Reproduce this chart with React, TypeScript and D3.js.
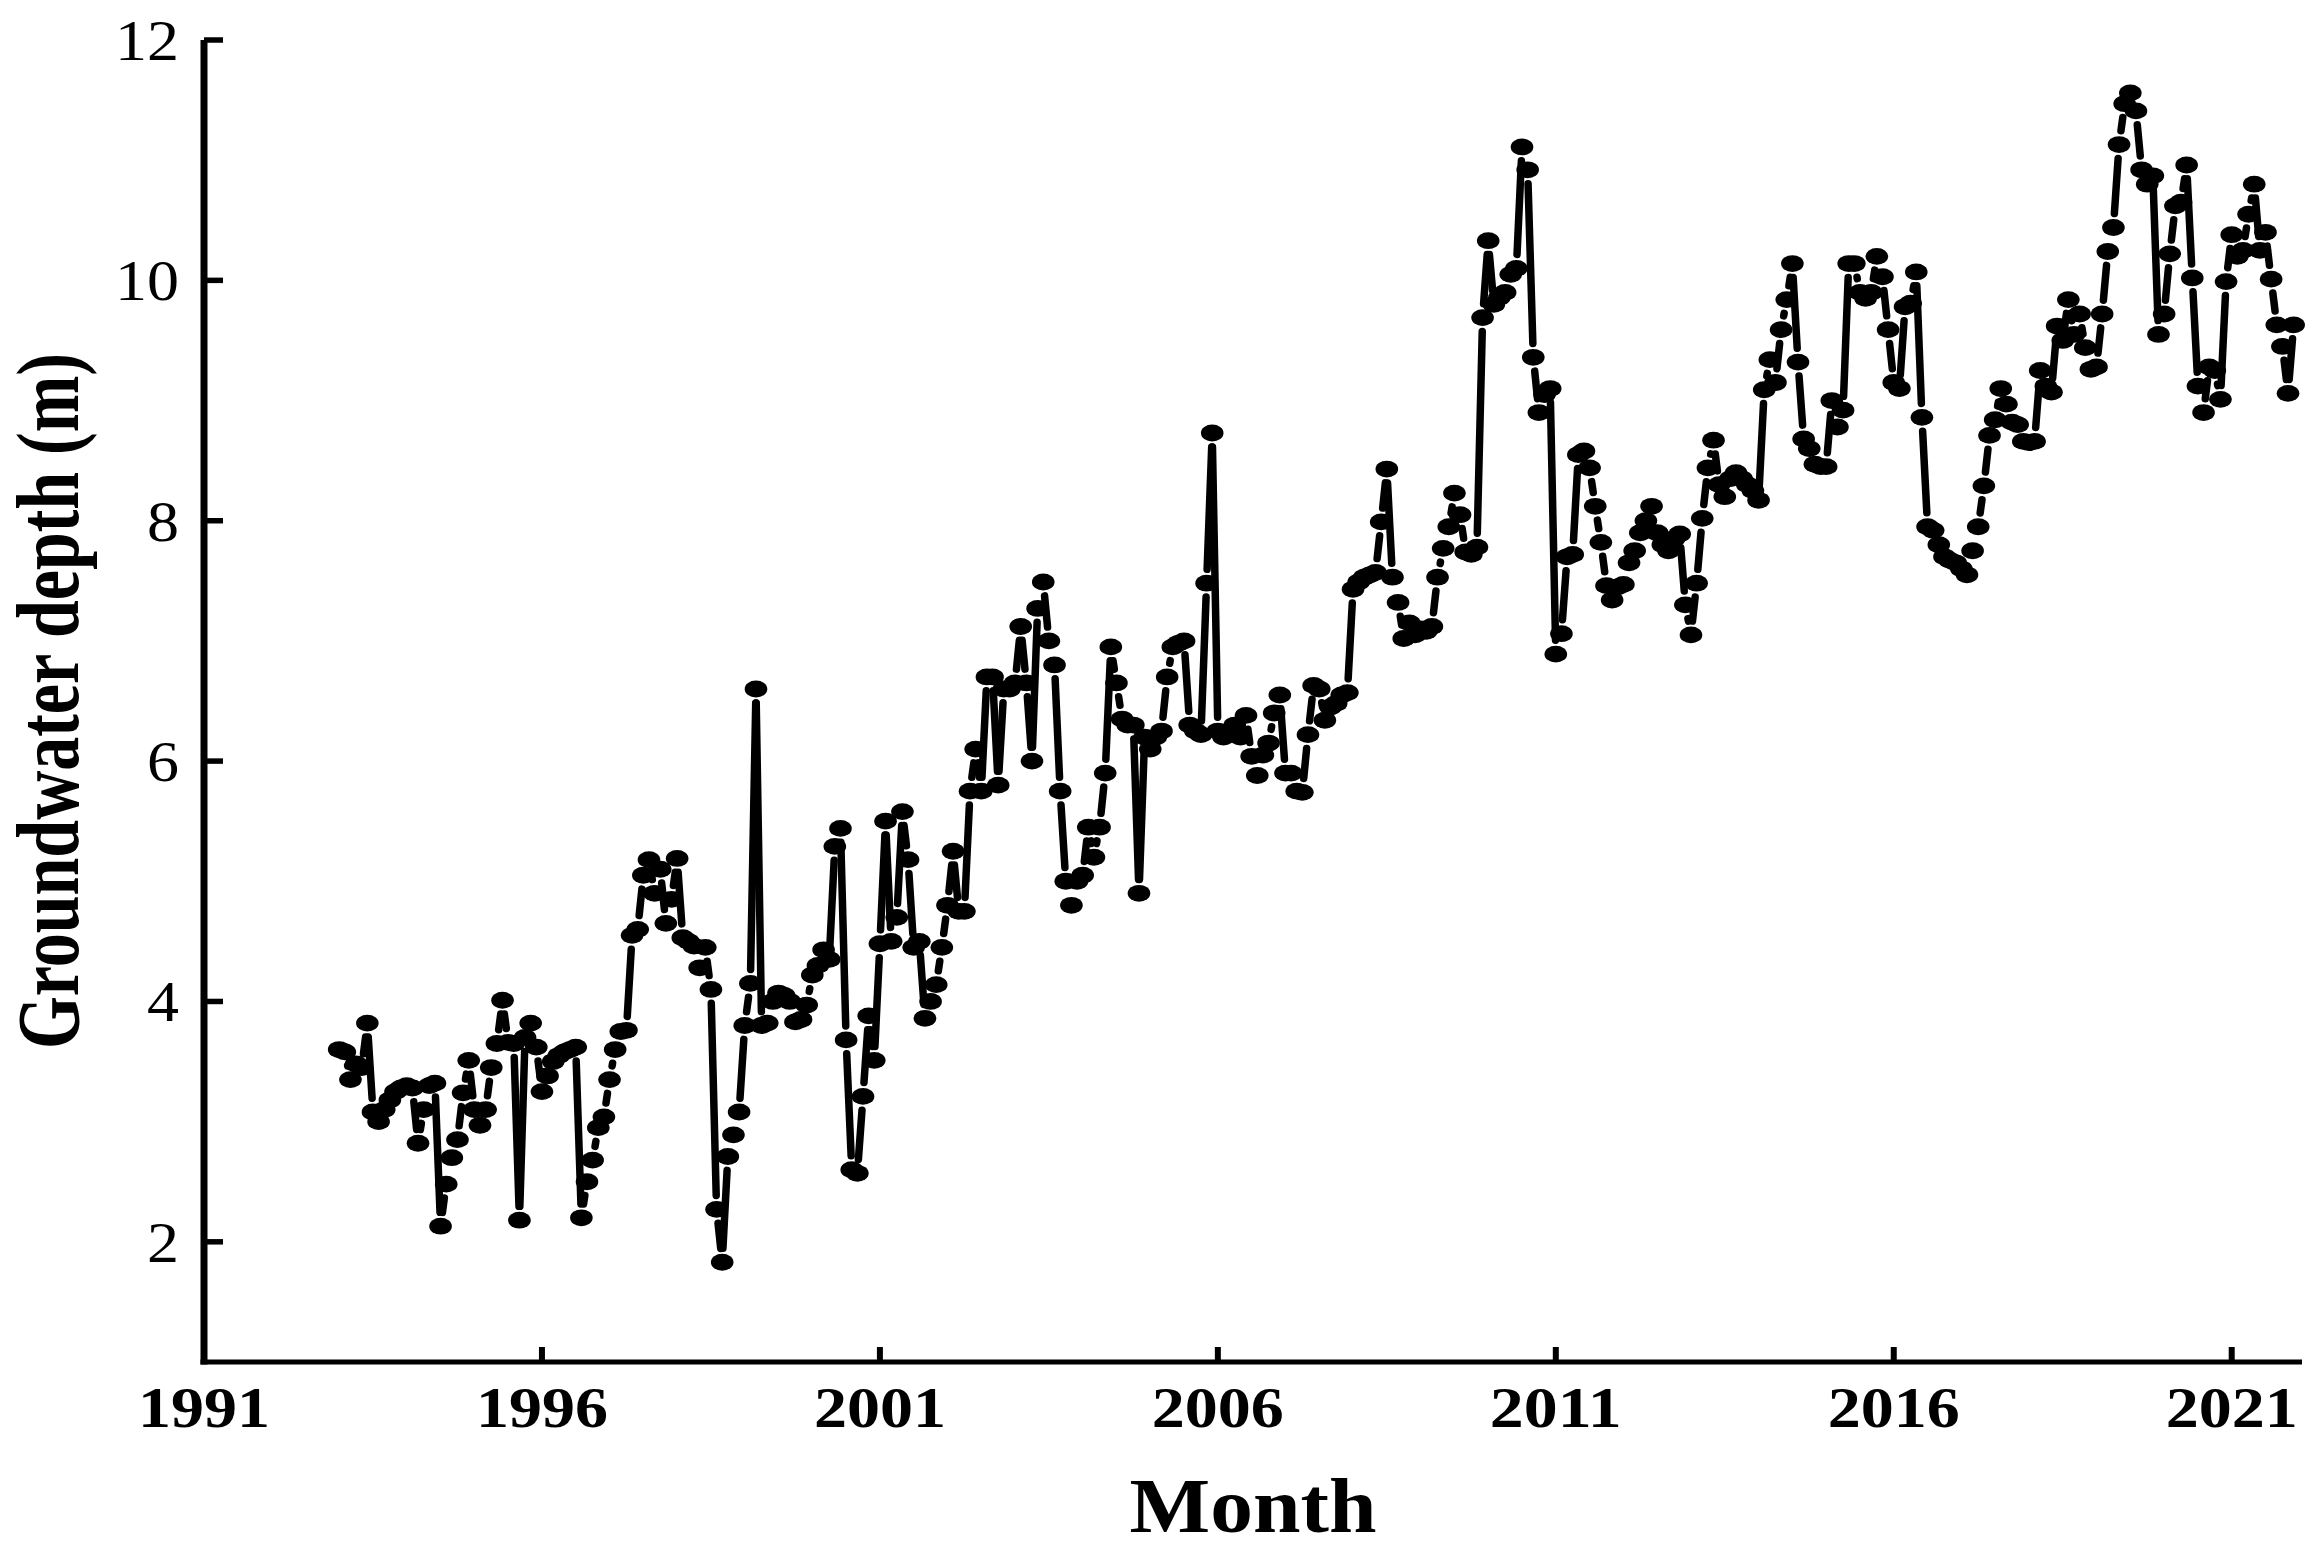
import React from 'react';
import * as d3 from 'd3';

// monthly groundwater depth (m), Jan 1993 .. Dec 2021, one row per year
const startYear = 1993;

const depth1990s = [
  [3.60, 3.58, 3.35, 3.48, 3.45, 3.82, 3.08, 3.00, 3.10, 3.18, 3.25, 3.28], // 1993
  [3.30, 3.28, 2.82, 3.10, 3.30, 3.32, 2.13, 2.48, 2.70, 2.85, 3.24, 3.51], // 1994
  [3.10, 2.97, 3.10, 3.45, 3.65, 4.01, 3.66, 3.65, 2.18, 3.70, 3.82, 3.62], // 1995
  [3.25, 3.38, 3.50, 3.55, 3.58, 3.60, 3.62, 2.20, 2.50, 2.68, 2.95, 3.04], // 1996
  [3.35, 3.60, 3.75, 3.76, 4.55, 4.60, 5.05, 5.18, 4.90, 5.10, 4.65, 4.85], // 1997
  [5.19, 4.53, 4.50, 4.46, 4.28, 4.45, 4.10, 2.27, 1.83, 2.71, 2.89, 3.08], // 1998
  [3.80, 4.15, 6.60, 3.80, 3.82, 4.00, 4.07, 4.05, 4.00, 3.83, 3.85, 3.97], // 1999
];

const depth2000s = [
  [4.22, 4.30, 4.43, 4.35, 5.29, 5.44, 3.68, 2.60, 2.57, 3.21, 3.88, 3.51], // 2000
  [4.48, 5.50, 4.50, 4.70, 5.58, 5.18, 4.45, 4.50, 3.86, 4.00, 4.14, 4.45], // 2001
  [4.80, 5.25, 4.75, 4.75, 5.75, 6.10, 5.75, 6.70, 6.70, 5.80, 6.60, 6.60], // 2002
  [6.65, 7.12, 6.65, 6.00, 7.27, 7.49, 7.00, 6.80, 5.75, 5.00, 4.80, 5.00], // 2003
  [5.05, 5.45, 5.20, 5.45, 5.90, 6.95, 6.65, 6.35, 6.30, 6.30, 4.90, 6.20], // 2004
  [6.10, 6.20, 6.25, 6.70, 6.95, 6.98, 7.00, 6.30, 6.25, 6.22, 7.48, 8.73], // 2005
  [6.25, 6.20, 6.25, 6.30, 6.20, 6.38, 6.04, 5.88, 6.05, 6.15, 6.40, 6.55], // 2006
  [5.90, 5.90, 5.75, 5.74, 6.22, 6.63, 6.60, 6.34, 6.45, 6.48, 6.55, 6.57], // 2007
  [7.43, 7.49, 7.53, 7.55, 7.57, 7.99, 8.43, 7.53, 7.32, 7.02, 7.15, 7.05], // 2008
  [7.10, 7.08, 7.12, 7.53, 7.77, 7.95, 8.23, 8.05, 7.74, 7.72, 7.78, 9.69], // 2009
];

const depth2010s = [
  [10.33, 9.80, 9.86, 9.90, 10.05, 10.10, 11.11, 10.92, 9.36, 8.90, 9.05, 9.10], // 2010
  [6.89, 7.06, 7.70, 7.72, 8.55, 8.58, 8.44, 8.12, 7.82, 7.46, 7.34, 7.45], // 2011
  [7.47, 7.65, 7.75, 7.90, 8.00, 8.12, 7.90, 7.80, 7.75, 7.85, 7.89, 7.30], // 2012
  [7.05, 7.48, 8.02, 8.44, 8.67, 8.30, 8.20, 8.35, 8.40, 8.35, 8.30, 8.25], // 2013
  [8.17, 9.09, 9.34, 9.15, 9.59, 9.84, 10.14, 9.32, 8.68, 8.60, 8.47, 8.45], // 2014
  [8.45, 9.00, 8.78, 8.92, 10.14, 10.14, 9.90, 9.85, 9.90, 10.20, 10.03, 9.59], // 2015
  [9.15, 9.10, 9.78, 9.81, 10.07, 8.86, 7.95, 7.92, 7.80, 7.70, 7.67, 7.65], // 2016
  [7.60, 7.55, 7.75, 7.95, 8.29, 8.71, 8.84, 9.10, 8.97, 8.82, 8.80, 8.66], // 2017
  [8.65, 8.66, 9.25, 9.12, 9.07, 9.62, 9.50, 9.84, 9.55, 9.72, 9.44, 9.26], // 2018
  [9.28, 9.72, 10.24, 10.44, 11.13, 11.47, 11.56, 11.41, 10.92, 10.80, 10.87, 9.55], // 2019
];

const depth2020s = [
  [9.72, 10.22, 10.62, 10.65, 10.96, 10.02, 9.12, 8.90, 9.28, 9.25, 9.01, 9.99], // 2020
  [10.38, 10.20, 10.25, 10.55, 10.80, 10.25, 10.40, 10.01, 9.63, 9.45, 9.06, 9.63], // 2021
];

const xTicks = [1991, 1996, 2001, 2006, 2011, 2016, 2021];
const yTicks = [2, 4, 6, 8, 10, 12];

const W = 2319;
const H = 1548;
const margin = { left: 204, right: 17, top: 40, bottom: 186 };
const font = '"Liberation Serif", "Times New Roman", Times, serif';

// symbol size (ellipse) and gap between line and symbol, like Origin's "gap to symbol"
const rx = 11.3;
const ry = 8.4;
const gapExtra = 5.5;

export default function App() {
  const values = [...depth1990s, ...depth2000s, ...depth2010s, ...depth2020s].flat();
  const points = values.map((v, i) => ({ t: startYear + i / 12, v }));

  const x = d3.scaleLinear().domain([1991, 2022.04]).range([margin.left, W - margin.right]);
  const y = d3.scaleLinear().domain([1, 12]).range([H - margin.bottom, margin.top]);

  // line segments trimmed at both ends so they stop short of the symbols
  const segs = [];
  for (let i = 1; i < points.length; i++) {
    const x0 = x(points[i - 1].t), y0 = y(points[i - 1].v);
    const x1 = x(points[i].t), y1 = y(points[i].v);
    const dx = x1 - x0, dy = y1 - y0;
    const len = Math.hypot(dx, dy);
    const ux = dx / len, uy = dy / len;
    const r = 1 / Math.sqrt((ux / rx) ** 2 + (uy / ry) ** 2);
    const g = r + gapExtra;
    if (len > 2 * g) {
      segs.push({ key: i, x1: x0 + ux * g, y1: y0 + uy * g, x2: x1 - ux * g, y2: y1 - uy * g });
    }
  }

  const x0 = x.range()[0];
  const x1 = x.range()[1];
  const yb = y.range()[0];
  const yt = y.range()[1];

  return (
    <svg
      width={W}
      height={H}
      style={{ position: 'absolute', left: 0, top: 0, background: '#fff' }}
      fontFamily={font}
      fontWeight="bold"
    >
      <rect width={W} height={H} fill="#fff" />

      {/* data line */}
      <g stroke="#000" strokeWidth={7.5} strokeLinecap="round">
        {segs.map(s => (
          <line key={s.key} x1={s.x1} y1={s.y1} x2={s.x2} y2={s.y2} />
        ))}
      </g>
      <g fill="#000">
        {points.map((p, i) => (
          <ellipse key={i} cx={x(p.t)} cy={y(p.v)} rx={rx} ry={ry} />
        ))}
      </g>

      {/* axes */}
      <line x1={x0} y1={yt} x2={x0} y2={yb + 2.5} stroke="#000" strokeWidth={7} />
      <line x1={x0 - 3.5} y1={yb} x2={x1} y2={yb} stroke="#000" strokeWidth={5} />

      {yTicks.map(t => (
        <g key={t}>
          <line x1={x0} x2={x0 + 19} y1={y(t)} y2={y(t)} stroke="#000" strokeWidth={5.5} />
          <text
            x={179}
            y={y(t) + 20}
            textAnchor="end"
            fontSize={56}
            fontWeight="normal"
            textLength={String(t).length * 32}
            lengthAdjust="spacingAndGlyphs"
          >
            {t}
          </text>
        </g>
      ))}

      {xTicks.map(t => (
        <g key={t}>
          <line x1={x(t)} x2={x(t)} y1={yb} y2={yb - 15} stroke="#000" strokeWidth={6} />
          <text
            x={x(t)}
            y={1427}
            textAnchor="middle"
            fontSize={57}
            textLength={132}
            lengthAdjust="spacingAndGlyphs"
          >
            {t}
          </text>
        </g>
      ))}

      <text
        x={(x0 + x1) / 2}
        y={1532}
        textAnchor="middle"
        fontSize={78}
        textLength={247}
        lengthAdjust="spacingAndGlyphs"
      >
        Month
      </text>

      <text
        transform={`translate(78, ${(yt + yb) / 2}) rotate(-90)`}
        textAnchor="middle"
        fontSize={88}
        textLength={696}
        lengthAdjust="spacingAndGlyphs"
      >
        Groundwater depth (m)
      </text>
    </svg>
  );
}
